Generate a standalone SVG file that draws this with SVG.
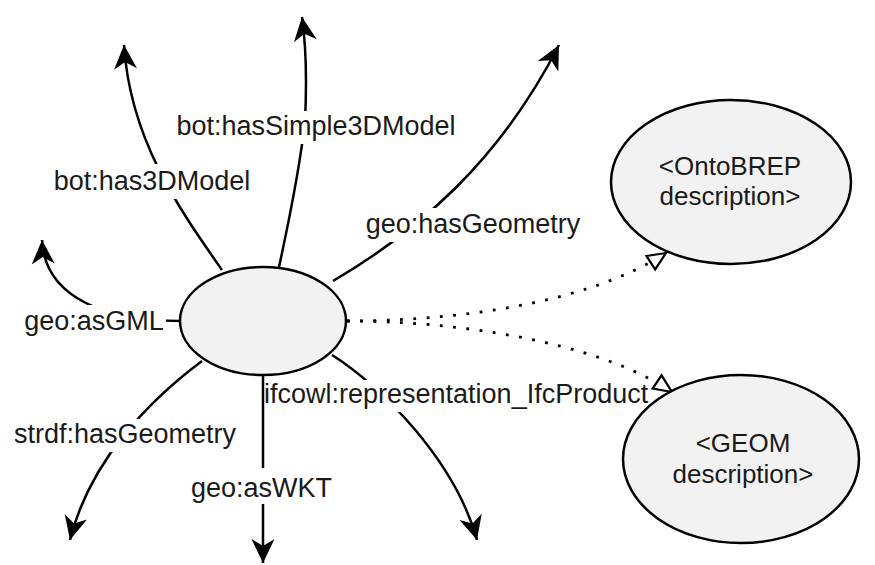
<svg xmlns="http://www.w3.org/2000/svg" width="875" height="565" viewBox="0 0 875 565">
<defs>
<style>
.node{fill:#f2f2f2;stroke:#000;stroke-width:2.5}
.edge{fill:none;stroke:#000;stroke-width:2.5}
.dot{fill:none;stroke:#000;stroke-width:2.8;stroke-dasharray:2.8 10.5}
.lbl{font-family:"Liberation Sans",Arial,sans-serif;font-size:27px;fill:#1a1a1a}
.ntx{font-family:"Liberation Sans",Arial,sans-serif;font-size:26px;fill:#1a1a1a;text-anchor:middle}
.bg{fill:#fff}
</style>
<marker id="arr" viewBox="-26 -13 28 26" refX="0" refY="0" markerWidth="28" markerHeight="26" markerUnits="userSpaceOnUse" orient="auto">
<path d="M0,0 L-24,-11.5 L-17,0 L-24,11.5 Z" fill="#000"/>
</marker>
<marker id="open" viewBox="-22 -11 25 22" refX="0" refY="0" markerWidth="25" markerHeight="22" markerUnits="userSpaceOnUse" orient="auto">
<path d="M0,0 L-18,-8 L-18,8 Z" fill="#fff" stroke="#000" stroke-width="2.2" stroke-linejoin="miter"/>
</marker>
</defs>
<rect width="875" height="565" fill="#fff"/>

<g id="connectors">
<g id="e-hasSimple3DModel">
<path class="edge" d="M 279 267 Q 300 170 305 120 Q 308 60 302 17" marker-end="url(#arr)"/>
<rect class="bg" x="175" y="111" width="283" height="33"/>
<text class="lbl" x="316" y="135" text-anchor="middle">bot:hasSimple3DModel</text>
</g>
<g id="e-has3DModel">
<path class="edge" d="M 222 270 C 180 210, 130 140, 124 45" marker-end="url(#arr)"/>
<rect class="bg" x="50" y="164" width="204" height="35"/>
<text class="lbl" x="152" y="190" text-anchor="middle">bot:has3DModel</text>
</g>
<g id="e-hasGeometry">
<path class="edge" d="M 333 281 C 420 230, 500 160, 559 45" marker-end="url(#arr)"/>
<rect class="bg" x="366" y="208" width="214" height="34"/>
<text class="lbl" x="473" y="233" text-anchor="middle">geo:hasGeometry</text>
</g>
<g id="e-asGML">
<path class="edge" d="M 180 321 C 110 321, 45 300, 42 240" marker-end="url(#arr)"/>
<rect class="bg" x="20" y="305" width="146" height="35"/>
<text class="lbl" x="94" y="330" text-anchor="middle">geo:asGML</text>
</g>
<g id="e-strdf">
<path class="edge" d="M 202 361 C 150 400, 90 460, 70 540" marker-end="url(#arr)"/>
<rect class="bg" x="9" y="419" width="232" height="33"/>
<text class="lbl" x="125" y="443" text-anchor="middle">strdf:hasGeometry</text>
</g>
<g id="e-asWKT">
<path class="edge" d="M 263 375 L 263 563" marker-end="url(#arr)"/>
<rect class="bg" x="188" y="468" width="147" height="36"/>
<text class="lbl" x="261.5" y="497" text-anchor="middle">geo:asWKT</text>
</g>
<g id="e-ifcowl">
<path class="edge" d="M 332 355 C 380 385, 455 460, 477 540" marker-end="url(#arr)"/>
<rect class="bg" x="266" y="380" width="380" height="32"/>
<text class="lbl" x="264" y="403">ifcowl:representation_IfcProduct</text>
</g>
<g id="e-ontobrep">
<path class="dot" d="M 347 321 C 450 321, 585 305, 666 253" marker-end="url(#open)"/>
</g>
<g id="e-geom">
<path class="dot" d="M 347 321 C 450 321, 595 340, 672 392" marker-end="url(#open)"/>
</g>
</g>

<g id="n-center">
<ellipse class="node" cx="263" cy="321" rx="83" ry="54"/>
</g>
<g id="n-ontobrep">
<ellipse class="node" cx="731" cy="182" rx="120" ry="82"/>
<text class="ntx" x="730" y="175">&lt;OntoBREP</text>
<text class="ntx" x="730" y="205">description&gt;</text>
</g>
<g id="n-geom">
<ellipse class="node" cx="741" cy="459" rx="118" ry="84"/>
<text class="ntx" x="743" y="452">&lt;GEOM</text>
<text class="ntx" x="743" y="483">description&gt;</text>
</g>
</svg>
